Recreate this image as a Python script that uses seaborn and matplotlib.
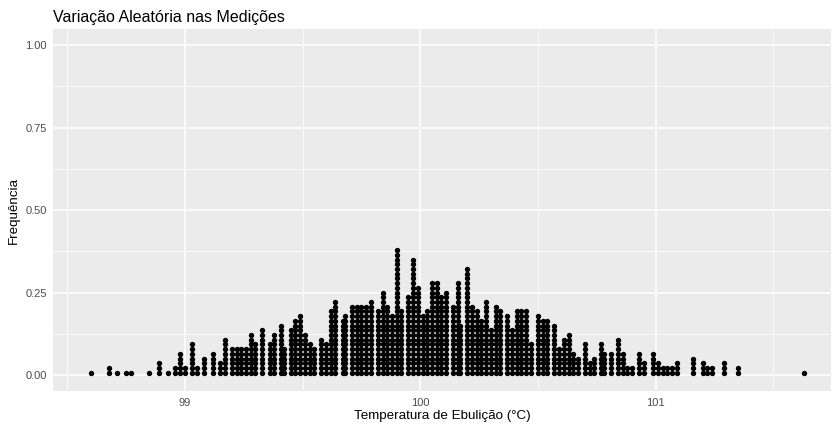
"""Dot plot of simulated boiling-point measurements (ggplot-like look)."""

import matplotlib
matplotlib.use("Agg")
import matplotlib.pyplot as plt
from matplotlib.ticker import FixedLocator
import pandas as pd
import seaborn as sns

# Bin centres (°C) and number of stacked dots in each bin
TEMPS = [
    98.60, 98.68, 98.71, 98.75, 98.77, 98.85, 98.89, 98.93, 98.96, 98.98,
    99.00, 99.03, 99.05, 99.08, 99.12, 99.15, 99.17, 99.20, 99.22, 99.24,
    99.26, 99.28, 99.30, 99.33, 99.36, 99.38, 99.41, 99.42, 99.45, 99.47,
    99.49, 99.51, 99.53, 99.55, 99.58, 99.60, 99.62, 99.64, 99.67, 99.68,
    99.71, 99.73, 99.75, 99.77, 99.79, 99.82, 99.84, 99.86, 99.88, 99.90,
    99.92, 99.95, 99.97, 99.99, 100.01, 100.03, 100.05, 100.07, 100.09, 100.11,
    100.14, 100.16, 100.17, 100.20, 100.22, 100.24, 100.26, 100.28, 100.30, 100.32,
    100.34, 100.37, 100.39, 100.41, 100.43, 100.45, 100.47, 100.50, 100.52, 100.54,
    100.57, 100.59, 100.61, 100.63, 100.65, 100.67, 100.70, 100.72, 100.74, 100.77,
    100.78, 100.81, 100.84, 100.86, 100.88, 100.90, 100.93, 100.95, 100.99, 101.01,
    101.03, 101.05, 101.07, 101.09, 101.16, 101.20, 101.22, 101.24, 101.29, 101.35,
    101.63,
]
COUNTS = [
    1, 2, 1, 1, 1, 1, 3, 1, 2, 5,
    2, 7, 2, 4, 5, 3, 8, 6, 6, 6,
    6, 9, 7, 10, 7, 9, 11, 6, 10, 12,
    13, 9, 7, 6, 8, 7, 14, 16, 12, 13,
    15, 15, 15, 15, 16, 14, 18, 15, 13, 27,
    14, 17, 25, 19, 13, 14, 20, 20, 17, 18,
    15, 20, 11, 23, 15, 14, 12, 16, 10, 15,
    14, 13, 10, 14, 14, 14, 7, 13, 12, 12,
    11, 6, 8, 9, 5, 4, 7, 3, 4, 7,
    5, 5, 8, 5, 2, 2, 5, 3, 5, 3,
    2, 2, 2, 3, 4, 3, 2, 2, 3, 2,
    1,
]

X_TICKS = [99, 100, 101]
X_MINOR = [98.5, 99.5, 100.5, 101.5]
Y_TICKS = [0.0, 0.25, 0.50, 0.75, 1.00]
Y_TICK_LABELS = ["0.00", "0.25", "0.50", "0.75", "1.00"]
Y_MINOR = [0.125, 0.375, 0.625, 0.875]

TITLE = "Variação Aleatória nas Medições"
X_LABEL = "Temperatura de Ebulição (°C)"
Y_LABEL = "Frequência"

DOT_STEP = 4.71 / 330  # one dot diameter in y-axis units


def build_dots() -> pd.DataFrame:
    rows = []
    for t, n in zip(TEMPS, COUNTS):
        for k in range(n):
            rows.append((t, (k + 0.5) * DOT_STEP))
    return pd.DataFrame(rows, columns=["temp", "freq"])


def main() -> None:
    sns.set_theme(style="darkgrid")
    plt.rcParams["font.family"] = ["Liberation Sans", "DejaVu Sans"]

    dots = build_dots()

    fig = plt.figure(figsize=(8.37, 4.26), dpi=100)
    ax = fig.add_axes([0.0633, 0.081, 0.9295, 0.852])
    ax.set_facecolor("#EBEBEB")

    sns.scatterplot(data=dots, x="temp", y="freq", ax=ax, color="black",
                    s=15, linewidth=0, legend=False, zorder=3)

    ax.set_xlim(98.44, 101.745)
    ax.set_ylim(-0.05, 1.05)
    ax.set_xticks(X_TICKS)
    ax.set_xticklabels([str(t) for t in X_TICKS])
    ax.set_yticks(Y_TICKS)
    ax.set_yticklabels(Y_TICK_LABELS)
    ax.xaxis.set_minor_locator(FixedLocator(X_MINOR))
    ax.yaxis.set_minor_locator(FixedLocator(Y_MINOR))

    ax.grid(which="major", color="white", linewidth=1.1)
    ax.grid(which="minor", color="white", linewidth=0.55)
    ax.set_axisbelow(True)
    for spine in ax.spines.values():
        spine.set_visible(False)

    ax.tick_params(which="major", length=2.4, width=0.8, color="#333333",
                   labelsize=8, labelcolor="#4D4D4D", pad=2)
    ax.tick_params(which="minor", length=0)

    ax.set_xlabel(X_LABEL, fontsize=9.6, color="black", labelpad=2)
    ax.set_ylabel(Y_LABEL, fontsize=9.6, color="black", labelpad=4)
    ax.set_title(TITLE, loc="left", fontsize=11.5, color="black", pad=5)

    fig.savefig("out.png", dpi=100)
    plt.close(fig)


if __name__ == "__main__":
    main()
